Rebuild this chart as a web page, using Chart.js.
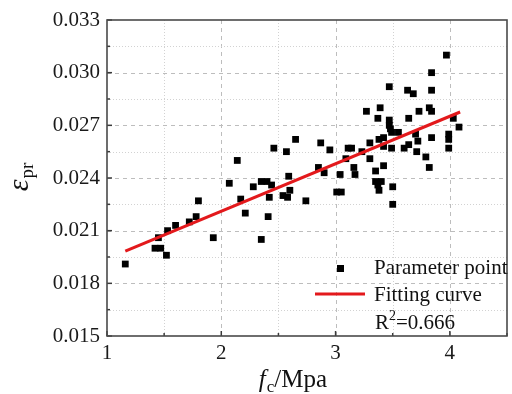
<!DOCTYPE html>
<html>
<head>
<meta charset="utf-8">
<script src="https://cdn.jsdelivr.net/npm/chart.js@4.4.0/dist/chart.umd.min.js"></script>
<style>
  html, body { margin: 0; padding: 0; background: #fff; }
  #wrap { width: 512px; height: 394px; }
</style>
</head>
<body>
<div id="wrap"><canvas id="chart" width="512" height="394"></canvas></div>
<script>
// concrete strength f_c (MPa) and peak strain for each specimen
const fcValues = [
  1.16, 1.42, 1.47, 1.45, 1.52, 1.53, 1.60, 1.72, 1.78, 1.80, 1.93, 2.07, 2.14, 2.17, 2.21,
  2.28, 2.35, 2.40, 2.44, 2.42, 2.41, 2.35, 2.46, 2.57, 2.65, 2.59, 2.60, 2.54, 2.58, 2.74,
  2.87, 2.95, 3.11, 3.14, 3.30, 3.38, 3.23, 3.09, 3.30, 2.85, 2.90, 3.16, 3.04, 3.17, 3.35,
  3.35, 3.40, 3.37, 3.38, 3.01, 3.05, 3.27, 3.39, 3.37,
  3.97, 3.84, 3.47, 3.63, 3.68, 3.84, 3.73, 3.82, 3.84, 3.64, 3.47, 3.47, 3.48, 3.49, 4.03,
  4.08, 3.55, 3.70, 3.84, 3.99, 3.99, 3.99, 3.42, 3.49, 3.60, 3.64, 3.72, 3.71, 3.79, 3.82,
  3.42, 3.50, 3.50, 3.42
];
const strainValues = [
  0.0191, 0.0200, 0.0200, 0.0206, 0.0196, 0.0210, 0.0213, 0.0215, 0.0218, 0.0227, 0.0206, 0.0237, 0.0250, 0.0228, 0.0220,
  0.0235, 0.0238, 0.0238, 0.0236, 0.0229, 0.0218, 0.0205, 0.0257, 0.0255, 0.0262, 0.0241, 0.0233, 0.0230, 0.0229, 0.0227,
  0.0260, 0.0256, 0.0257, 0.0257, 0.0260, 0.0262, 0.0255, 0.0251, 0.0251, 0.0246, 0.0243, 0.0246, 0.0242, 0.0242, 0.0244,
  0.0238, 0.0238, 0.0236, 0.0233, 0.0232, 0.0232, 0.0278, 0.0280, 0.0274,
  0.0310, 0.0300, 0.0292, 0.0290, 0.0288, 0.0290, 0.0278, 0.0280, 0.0278, 0.0274, 0.0273, 0.0270, 0.0268, 0.0266, 0.0274,
  0.0269, 0.0266, 0.0265, 0.0263, 0.0265, 0.0262, 0.0257, 0.0263, 0.0257, 0.0257, 0.0259, 0.0261, 0.0255, 0.0252, 0.0246,
  0.0247, 0.0235, 0.0225, 0.0258
];

// linear fit, end points
const fitX = [1.16, 4.09];
const fitY = [0.01984, 0.02776];
const rSquared = '0.666';

const xTickLabels = ['1', '2', '3', '4'];
const yTickLabels = ['0.015', '0.018', '0.021', '0.024', '0.027', '0.030', '0.033'];

const SERIF = '"Liberation Serif", "DejaVu Serif", serif';
const RED = '#e3191c';

function findLabel(labels, value) {
  const hit = labels.find((s) => Math.abs(Number(s) - value) < 1e-7);
  return hit || '';
}

// grid, inward ticks and the box around the plot
const frame = {
  id: 'frame',
  beforeDatasetsDraw(chart) {
    const { ctx, chartArea: a, scales: { x, y } } = chart;
    ctx.save();
    ctx.lineWidth = 1;
    x.ticks.forEach((t) => {
      const px = Math.round(x.getPixelForValue(t.value)) + 0.5;
      if (px <= a.left + 2 || px >= a.right - 2) return;
      const major = findLabel(xTickLabels, t.value) !== '';
      ctx.strokeStyle = major ? '#bdbdbd' : '#d2d2d2';
      ctx.setLineDash(major ? [4, 4] : [1, 2]);
      ctx.beginPath();
      ctx.moveTo(px, a.top);
      ctx.lineTo(px, a.bottom);
      ctx.stroke();
    });
    y.ticks.forEach((t) => {
      const py = Math.round(y.getPixelForValue(t.value)) + 0.5;
      if (py <= a.top + 2 || py >= a.bottom - 2) return;
      const major = findLabel(yTickLabels, t.value) !== '';
      ctx.strokeStyle = major ? '#bdbdbd' : '#d2d2d2';
      ctx.setLineDash(major ? [4, 4] : [1, 2]);
      ctx.beginPath();
      ctx.moveTo(a.left, py);
      ctx.lineTo(a.right, py);
      ctx.stroke();
    });
    ctx.restore();
  },
  afterDraw(chart) {
    const { ctx, chartArea: a, scales: { x, y } } = chart;
    ctx.save();
    ctx.setLineDash([]);
    ctx.strokeStyle = '#3a3a3a';
    ctx.lineWidth = 1.5;
    x.ticks.forEach((t) => {
      const px = x.getPixelForValue(t.value);
      const len = findLabel(xTickLabels, t.value) ? 5 : 3;
      ctx.beginPath();
      ctx.moveTo(px, a.bottom);
      ctx.lineTo(px, a.bottom - len);
      ctx.stroke();
    });
    y.ticks.forEach((t) => {
      const py = y.getPixelForValue(t.value);
      const len = findLabel(yTickLabels, t.value) ? 5 : 3;
      ctx.beginPath();
      ctx.moveTo(a.left, py);
      ctx.lineTo(a.left + len, py);
      ctx.stroke();
    });
    ctx.strokeStyle = '#4a4a4a';
    ctx.lineWidth = 1.6;
    ctx.strokeRect(a.left, a.top, a.right - a.left, a.bottom - a.top);
    ctx.restore();
  }
};

// axis titles with italic symbols and subscripts, plus the legend box
const annotations = {
  id: 'annotations',
  afterDraw(chart) {
    const { ctx } = chart;
    ctx.save();
    ctx.fillStyle = '#111';
    ctx.textBaseline = 'alphabetic';

    // x title: f_c/Mpa
    const big = '25px ' + SERIF;
    const bigIt = 'italic 25px ' + SERIF;
    const sub = '17px ' + SERIF;
    ctx.font = bigIt; const wf = ctx.measureText('f').width;
    ctx.font = sub; const wc = ctx.measureText('c').width;
    ctx.font = big; const wr = ctx.measureText('/Mpa').width;
    let xx = 293 - (wf + wc + wr + 1) / 2;
    const base = 387;
    ctx.font = bigIt; ctx.fillText('f', xx, base); xx += wf + 1;
    ctx.font = sub; ctx.fillText('c', xx, base + 5); xx += wc;
    ctx.font = big; ctx.fillText('/Mpa', xx, base);

    // y title: epsilon_pr, rotated
    ctx.save();
    ctx.translate(28, 177);
    ctx.rotate(-Math.PI / 2);
    ctx.font = 'italic 30px ' + SERIF;
    const we = ctx.measureText('\u03b5').width;
    ctx.font = '19px ' + SERIF;
    const wp = ctx.measureText('pr').width;
    let yy = -(we + wp + 1) / 2;
    ctx.font = 'italic 30px ' + SERIF;
    ctx.fillText('\u03b5', yy, 0); yy += we + 1;
    ctx.font = '19px ' + SERIF;
    ctx.fillText('pr', yy, 5);
    ctx.restore();

    // legend
    ctx.fillStyle = '#000';
    ctx.fillRect(337, 265, 7, 7);
    ctx.strokeStyle = RED;
    ctx.lineWidth = 3;
    ctx.beginPath();
    ctx.moveTo(315, 294);
    ctx.lineTo(365, 294);
    ctx.stroke();
    ctx.fillStyle = '#111';
    ctx.font = '21px ' + SERIF;
    ctx.fillText('Parameter point', 374, 274);
    ctx.fillText('Fitting curve', 374, 301);
    ctx.fillText('R', 375, 329);
    const wR = ctx.measureText('R').width;
    ctx.font = '14px ' + SERIF;
    ctx.fillText('2', 375 + wR, 320);
    const w2 = ctx.measureText('2').width;
    ctx.font = '21px ' + SERIF;
    ctx.fillText('=' + rSquared, 375 + wR + w2, 329);
    ctx.restore();
  }
};

const points = fcValues.map((v, i) => ({ x: v, y: strainValues[i] }));
const fitLine = fitX.map((v, i) => ({ x: v, y: fitY[i] }));

new Chart(document.getElementById('chart'), {
  type: 'scatter',
  data: {
    datasets: [
      {
        type: 'line',
        label: 'Fitting curve',
        data: fitLine,
        borderColor: RED,
        borderWidth: 3,
        pointRadius: 0,
        fill: false,
        order: 0
      },
      {
        label: 'Parameter point',
        data: points,
        pointStyle: 'rect',
        pointRadius: 4.8,
        backgroundColor: '#000',
        borderColor: '#000',
        borderWidth: 0,
        order: 1
      }
    ]
  },
  options: {
    responsive: false,
    animation: false,
    events: [],
    layout: { padding: { top: 20, right: 2, left: 0, bottom: 0 } },
    plugins: { legend: { display: false }, tooltip: { enabled: false } },
    scales: {
      x: {
        type: 'linear',
        min: 1,
        max: 4.5,
        grid: { display: false, drawTicks: false },
        border: { display: false },
        ticks: {
          stepSize: 0.5,
          autoSkip: false,
          maxRotation: 0,
          padding: 5,
          color: '#1a1a1a',
          font: { family: SERIF, size: 21 },
          callback: (value) => findLabel(xTickLabels, value)
        },
        afterFit(scale) { scale.height = 58; }
      },
      y: {
        type: 'linear',
        min: 0.015,
        max: 0.033,
        grid: { display: false, drawTicks: false },
        border: { display: false },
        ticks: {
          stepSize: 0.0015,
          autoSkip: false,
          padding: 7,
          color: '#1a1a1a',
          font: { family: SERIF, size: 21 },
          callback: (value) => findLabel(yTickLabels, value)
        },
        afterFit(scale) { scale.width = 107; }
      }
    }
  },
  plugins: [frame, annotations]
});
</script>
</body>
</html>
